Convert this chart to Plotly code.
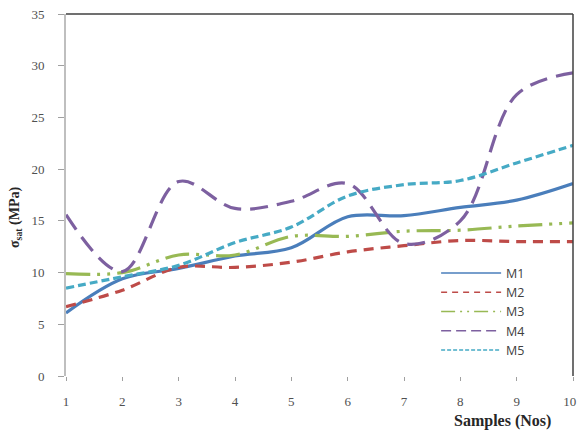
import plotly.graph_objects as go

samples = [1, 2, 3, 4, 5, 6, 7, 8, 9, 10]
sample_labels = ["1", "2", "3", "4", "5", "6", "7", "8", "9", "10\u00a0\u00a0"]
m1 = [6.1, 9.4, 10.4, 11.6, 12.4, 15.4, 15.5, 16.3, 17.0, 18.6]
m2 = [6.7, 8.3, 10.5, 10.5, 11.0, 12.0, 12.6, 13.1, 13.0, 13.0]
m3 = [9.9, 10.0, 11.7, 11.7, 13.5, 13.5, 14.0, 14.1, 14.5, 14.8]
m4 = [15.6, 10.1, 18.8, 16.2, 16.9, 18.6, 12.8, 15.0, 27.2, 29.3]
m5 = [8.5, 9.6, 10.7, 12.9, 14.4, 17.4, 18.5, 18.9, 20.6, 22.3]
names = ["M1", "M2", "M3", "M4", "M5"]
yticks = [0, 5, 10, 15, 20, 25, 30, 35]

series = [m1, m2, m3, m4, m5]
colors = ["#4A7EBB", "#BE4B48", "#98B954", "#7D60A0", "#46AAC5"]
dashes = ["solid", "10px,7px", "24px,7px,3px,7px,3px,7px", "18px,9px", "8px,4px"]
legdashes = ["solid", "6px,5px", "14px,5px,2px,5px,2px,5px", "10px,5px", "4px,2px"]

fig = go.Figure()
for name, ys, c, d in zip(names, series, colors, dashes):
    fig.add_trace(go.Scatter(x=samples, y=ys, mode="lines", name=name,
                             line=dict(color=c, width=3.2, dash=d, shape="spline", smoothing=1.0),
                             showlegend=False))
for name, c, d in zip(names, colors, legdashes):
    fig.add_trace(go.Scatter(x=[None], y=[None], mode="lines", name=name,
                             line=dict(color=c, width=1.4, dash=d)))

# page body has an 8px margin, so the figure is sized/offset to compensate
fig.update_layout(
    width=577, height=422,
    margin=dict(l=58, r=12, t=6, b=54),
    paper_bgcolor="white", plot_bgcolor="white",
    showlegend=True,
    legend=dict(x=0.73, y=0.325, xanchor="left", yanchor="top",
                font=dict(family="Open Sans", size=12.5, color="#404040"),
                itemwidth=60, tracegroupgap=0, bgcolor="rgba(0,0,0,0)"),
    xaxis=dict(range=[1, 10], tickvals=samples, ticktext=sample_labels,
               showgrid=False, zeroline=False, automargin=False,
               showline=False, ticks="outside", ticklen=4, tickcolor="#A0A0A0",
               ticklabelstandoff=9, ticklabeloverflow="allow",
               tickfont=dict(family="Liberation Serif", size=13, color="#505050")),
    yaxis=dict(range=[0, 35], tickvals=yticks, showgrid=False, zeroline=False,
               automargin=False,
               showline=True, linecolor="#BFBFBF", linewidth=2,
               ticks="outside", ticklen=6, tickcolor="#A0A0A0",
               ticklabelstandoff=11, ticklabeloverflow="allow",
               tickfont=dict(family="Liberation Serif", size=13, color="#505050")),
    shapes=[
        dict(type="line", xref="paper", yref="paper", x0=0, x1=1, y0=1, y1=1,
             line=dict(color="#404040", width=1.5)),
        dict(type="line", xref="paper", yref="paper", x0=1, x1=1, y0=0, y1=1,
             line=dict(color="#404040", width=1.5)),
    ],
    annotations=[
        dict(text="<b>Samples (Nos)</b>", xref="paper", yref="paper", x=0.86, y=-0.095,
             xanchor="center", yanchor="top", showarrow=False,
             font=dict(family="Liberation Serif", size=16, color="#262626")),
        dict(text="<b>σ<sub>sat</sub> (MPa)</b>", xref="paper", yref="paper", x=-0.10, y=0.44,
             xanchor="center", yanchor="middle", textangle=-90, showarrow=False,
             font=dict(family="Liberation Serif", size=14, color="#262626")),
    ],
)

fig.write_html("out.html")
